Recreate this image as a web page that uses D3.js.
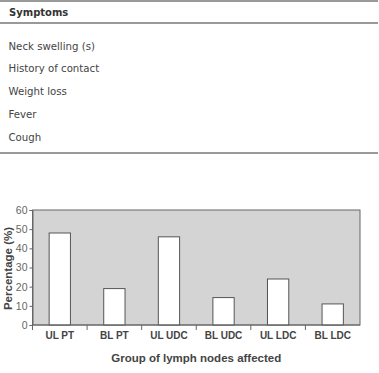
<!DOCTYPE html>
<html><head><meta charset="utf-8">
<script src="https://cdn.jsdelivr.net/npm/d3@7"></script>
<style>body{margin:0;background:#fff}svg{display:block}</style>
</head><body>
<script>
const symptomHeader = "Symptoms";
const symptoms = ["Neck swelling (s)", "History of contact", "Weight loss", "Fever", "Cough"];
const categories = ["UL PT", "BL PT", "UL UDC", "BL UDC", "UL LDC", "BL LDC"];
const values = [48, 19, 46, 14.3, 24, 11];
const yTicks = [0, 10, 20, 30, 40, 50, 60];
const xTitle = "Group of lymph nodes affected";
const yTitle = "Percentage (%)";

const W = 379, H = 373;
const svg = d3.select("body").append("svg").attr("width", W).attr("height", H);

// Table
svg.append("line").attr("x1",0).attr("x2",378).attr("y1",1).attr("y2",1).attr("stroke","#777").attr("stroke-width",1.5);
svg.append("text").attr("x",9).attr("y",16).text(symptomHeader)
  .attr("font-family","DejaVu Sans").attr("font-weight","bold").attr("font-size",10).attr("fill","#333");
svg.append("line").attr("x1",0).attr("x2",378).attr("y1",23).attr("y2",23).attr("stroke","#777").attr("stroke-width",1.5);
const rowY = d3.scalePoint().domain(symptoms).range([46,137]);
svg.selectAll("text.sym").data(symptoms).join("text").attr("class","sym")
  .attr("x",8.5).attr("y",d=>rowY(d)+3.5).text(d=>d)
  .attr("font-family","DejaVu Sans").attr("font-size",10.2).attr("fill","#444");
svg.append("line").attr("x1",0).attr("x2",378).attr("y1",153).attr("y2",153).attr("stroke","#777").attr("stroke-width",1.5);

// Chart
const pL = 32.5, pR = 360, pT = 210, pB = 325;
const x = d3.scaleBand().domain(categories).range([pL,pR]).paddingInner(0.61).paddingOuter(0.305);
const xb = d3.scaleBand().domain(categories).range([pL,pR]);
const y = d3.scaleLinear().domain([0,60]).range([pB,pT]);

svg.append("rect").attr("x",pL).attr("y",pT).attr("width",pR-pL).attr("height",pB-pT)
  .attr("fill","#d4d4d4").attr("stroke","#666").attr("stroke-width",1);

svg.selectAll("rect.bar").data(values).join("rect").attr("class","bar")
  .attr("x",(d,i)=>x(categories[i])).attr("width",x.bandwidth())
  .attr("y",d=>y(d)).attr("height",d=>pB-y(d))
  .attr("fill","#fff").attr("stroke","#555").attr("stroke-width",1);

// y axis
const ya = svg.append("g").attr("transform",`translate(${pL},0)`)
  .call(d3.axisLeft(y).tickValues(yTicks).tickSize(3).tickPadding(2));
ya.select(".domain").attr("stroke","#666");
ya.selectAll(".tick line").attr("stroke","#666");
ya.selectAll(".tick text").attr("font-family","Liberation Sans").attr("font-size",10.5).attr("fill","#666");

// x axis: ticks at band boundaries
svg.append("line").attr("x1",pL).attr("x2",pR).attr("y1",pB).attr("y2",pB).attr("stroke","#666");
const bounds = categories.slice(1).map(c=>xb(c));
svg.selectAll("line.xt").data(bounds).join("line").attr("class","xt")
  .attr("x1",d=>d).attr("x2",d=>d).attr("y1",pB).attr("y2",pB+5).attr("stroke","#666");
svg.append("line").attr("x1",pL).attr("x2",pL).attr("y1",pB).attr("y2",pB+5).attr("stroke","#666");
svg.selectAll("text.xl").data(categories).join("text").attr("class","xl")
  .attr("x",d=>xb(d)+xb.bandwidth()/2).attr("y",339).attr("text-anchor","middle").text(d=>d)
  .attr("font-family","Liberation Sans").attr("font-weight","bold").attr("font-size",10).attr("fill","#444");

svg.append("text").attr("x",(pL+pR)/2).attr("y",362).attr("text-anchor","middle").text(xTitle)
  .attr("font-family","Liberation Sans").attr("font-weight","bold").attr("font-size",11.5).attr("fill","#444");
svg.append("text").attr("transform",`translate(11.5,${(pT+pB)/2 + 1}) rotate(-90)`).attr("text-anchor","middle").text(yTitle)
  .attr("font-family","Liberation Sans").attr("font-weight","bold").attr("font-size",11.5).attr("fill","#444");
</script>
</body></html>
